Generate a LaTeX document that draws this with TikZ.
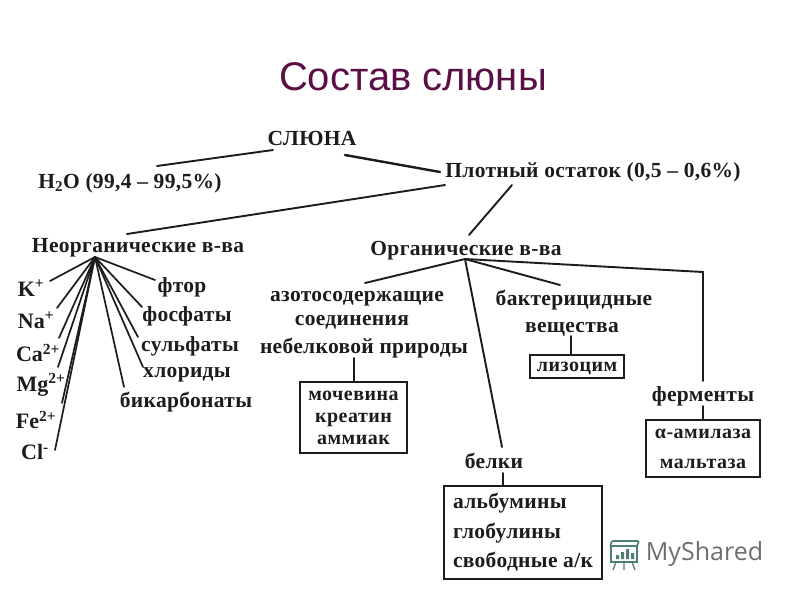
\documentclass[tikz,border=0pt]{standalone}
\usepackage{fontspec}
\setmainfont{Liberation Serif}
\newfontfamily\dgfont[LetterSpace=1.5]{Liberation Serif}
\newfontfamily\bxfont[LetterSpace=2.5]{Liberation Serif}
\newfontfamily\ttlfont{Liberation Sans}
\newfontfamily\logofont{Open Sans}
\definecolor{ink}{HTML}{1C1C1C}
\definecolor{ttl}{HTML}{5A0F45}
\definecolor{logoG}{HTML}{4F7F74}
\definecolor{logoT}{HTML}{6E6E6E}
\tikzset{
  lab/.style={inner sep=0pt,text=ink,text height=14pt,text depth=0pt,font=\dgfont\bfseries\fontsize{21.5}{22}\selectfont},
  ion/.style={inner sep=0pt,text=ink,font=\bfseries\fontsize{22}{22}\selectfont},
  boxed/.style={draw=ink,line width=1.9pt,inner sep=0pt,align=center,text=ink},
  conn/.style={draw=ink,line width=1.9pt,line cap=round},
  fan/.style={draw=ink,line width=1.7pt,line cap=round},
  logoln/.style={draw=logoG,line width=1.3pt}
}
\begin{document}
\begin{tikzpicture}[x=1pt,y=-1pt]
\useasboundingbox[fill=white] (0,0) rectangle (800,600);
\node[inner sep=0pt,text=ttl,font=\ttlfont\fontsize{40}{44}\selectfont] (title) at (413,77) {Состав слюны};
% top level
\node[lab] (root) at (312,138) {СЛЮНА};
\node[lab] (water) at (130,181) {H\textsubscript{2}O (99,4 – 99,5\%)};
\node[lab] (solid) at (593,170) {Плотный остаток (0,5 – 0,6\%)};
\node[lab] (inorg) at (138,245) {Неорганические в-ва};
\node[lab] (org) at (466,248) {Органические в-ва};
\coordinate (hubL) at (95,257);
\coordinate (hubR) at (465,259);
% ions
\node[ion] (k) at (31,288) {K\textsuperscript{+}};
\node[ion] (na) at (36,320) {Na\textsuperscript{+}};
\node[ion] (ca) at (38,353) {Ca\textsuperscript{2+}};
\node[ion] (mg) at (41,385) {Mg\textsuperscript{2+}};
\node[ion] (fe) at (36,420) {Fe\textsuperscript{2+}};
\node[ion] (cl) at (35,452) {Cl\textsuperscript{-}};
% anions
\node[lab] (f) at (182,285) {фтор};
\node[lab] (phos) at (187,314) {фосфаты};
\node[lab] (sulf) at (190,344) {сульфаты};
\node[lab] (chl) at (187,370) {хлориды};
\node[lab] (bic) at (186,400) {бикарбонаты};
% organic
\node[lab] (az1) at (357,294) {азотосодержащие};
\node[lab] (az2) at (352,318) {соединения};
\node[lab] (az3) at (364,346) {небелковой природы};
\node[boxed,minimum width=107pt,minimum height=71pt,font=\bxfont\bfseries\fontsize{20}{22}\selectfont] (urea) at (353.5,417.5) {мочевина\\креатин\\аммиак};
\node[lab] (bac1) at (574,298) {бактерицидные};
\node[lab] (bac2) at (572,325) {вещества};
\node[boxed,minimum width=94pt,minimum height=23pt,text height=10pt,text depth=0pt,font=\bxfont\bfseries\fontsize{20}{22}\selectfont] (lys) at (577,366.5) {лизоцим};
\node[lab] (enz) at (703,394) {ферменты};
\node[boxed,minimum width=114pt,minimum height=57pt,font=\bxfont\bfseries\fontsize{20}{30}\selectfont] (enzbox) at (703,448.5) {α-амилаза\\мальтаза};
\node[lab] (prot) at (494,461) {белки};
\node[boxed,minimum width=158pt,minimum height=93pt,align=left,font=\dgfont\bfseries\fontsize{21.5}{29.5}\selectfont] (protbox) at (523,532.5) {альбумины\\глобулины\\свободные а/к};
% connectors
\draw[conn] ([shift={(-39,12)}]root.center) -- ([shift={(27,-15)}]water.center);
\draw[conn,line width=2.4pt] ([shift={(33,17)}]root.center) -- ([shift={(-153,2)}]solid.center);
\draw[conn] ([shift={(-148,15)}]solid.center) -- ([shift={(-11,-11)}]inorg.center);
\draw[conn] ([shift={(-81,15)}]solid.center) -- ([shift={(3,-13)}]org.center);
\draw[fan] (hubL) -- ([shift={(19,-7)}]k.center);
\draw[fan] (hubL) -- ([shift={(21,-12)}]na.center);
\draw[fan] (hubL) -- ([shift={(21,-15)}]ca.center);
\draw[fan] (hubL) -- ([shift={(17,-18)}]mg.center);
\draw[fan] (hubL) -- ([shift={(26,-17)}]fe.center);
\draw[fan] (hubL) -- ([shift={(20,-2)}]cl.center);
\draw[fan] (hubL) -- ([shift={(-27,-5)}]f.center);
\draw[fan] (hubL) -- ([shift={(-45,-7)}]phos.center);
\draw[fan] (hubL) -- ([shift={(-52,-7)}]sulf.center);
\draw[fan] (hubL) -- ([shift={(-44,-3)}]chl.center);
\draw[fan] (hubL) -- ([shift={(-62,-13)}]bic.center);
\draw[conn] (hubR) -- ([shift={(8,-11)}]az1.center);
\draw[conn] (hubR) -- ([shift={(8,-14)}]prot.center);
\draw[conn] (hubR) -- ([shift={(-14,-13)}]bac1.center);
\draw[conn] (hubR) -- ([shift={(0,-122)}]enz.center) -- ([shift={(0,-13)}]enz.center);
\draw[conn] ([shift={(-10,12)}]az3.center) -- ([shift={(0.5,0)}]urea.north);
\draw[conn] ([shift={(-1,11)}]bac2.center) -- ([shift={(-6,0)}]lys.north);
\draw[conn] ([shift={(0,12)}]enz.center) -- (enzbox.north);
\draw[conn] ([shift={(9,12)}]prot.center) -- ([shift={(-20,0)}]protbox.north);
% logo
\node[inner sep=0pt,text=logoT,font=\logofont\fontsize{25}{30}\selectfont] (logotext) at (704.5,554) {MyShared};
\draw[logoln,line width=1.6pt,rounded corners=1pt] (612,541) -- (639,541) -- (637,546) -- (610,546) -- cycle;
\draw[logoln] (611,546) -- (611,562) -- (637,562) -- (637,546);
\draw[logoln] (616,562) -- (613,570) (624,562) -- (624,570) (632,562) -- (635,570);
\fill[logoG] (616,555) rectangle (619,559) (621,552) rectangle (624,559) (626,549) rectangle (629,559) (631,553) rectangle (634,559);
\end{tikzpicture}
\end{document}
